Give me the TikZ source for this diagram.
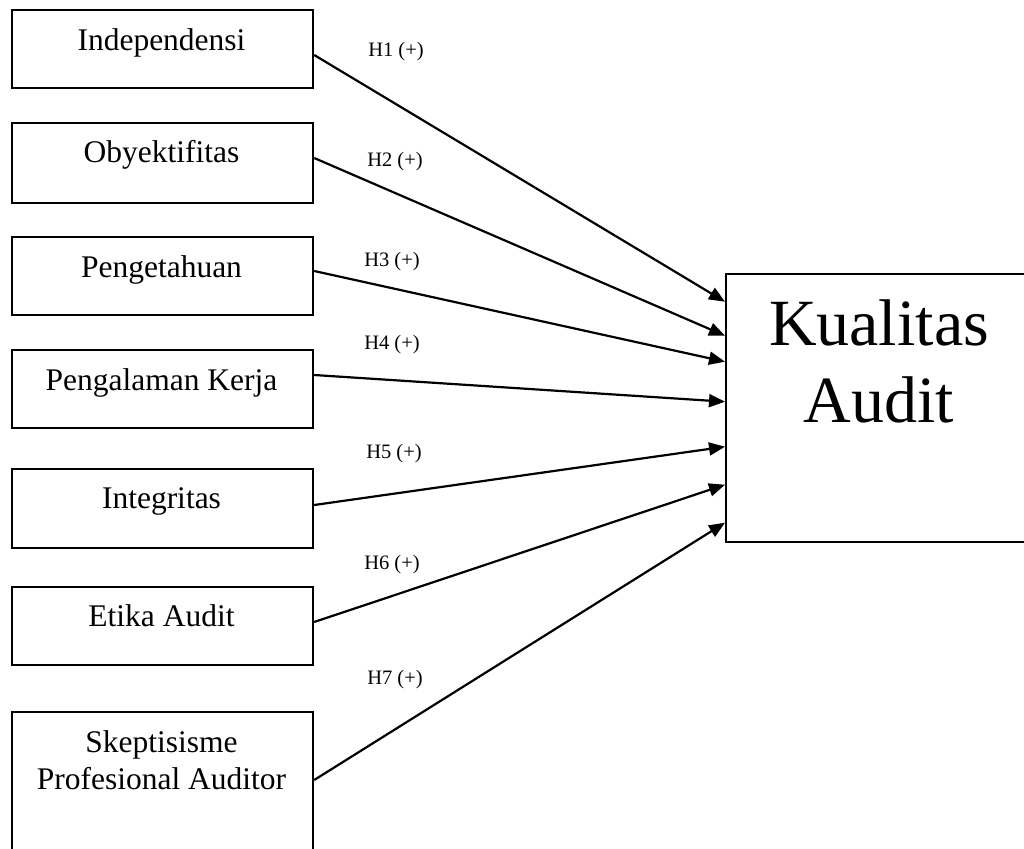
\documentclass[tikz,border=0pt]{standalone}
\usepackage{fontspec}
\setmainfont{Liberation Serif}
\usetikzlibrary{arrows.meta}
\begin{document}
\begin{tikzpicture}[x=1pt,y=-1pt,
  box/.style={draw, line width=2.2pt, rectangle, inner sep=0pt, minimum width=301pt, anchor=north west},
  lbl/.style={font=\fontsize{31.5}{36.8}\selectfont, anchor=base, inner sep=0pt, align=center},
  big/.style={font=\fontsize{66}{77}\selectfont, anchor=base, inner sep=0pt, align=center},
  hyp/.style={font=\fontsize{20.5}{24}\selectfont, inner sep=0pt},
  arr/.style={line width=2.2pt, -{Triangle[length=16pt,width=13pt]}},
]
\useasboundingbox (0,0) rectangle (1024,848);
\clip (0,0) rectangle (1024,848);

% source boxes
\node[box, minimum height=78pt] (b1) at (11,9) {};
\node[box, minimum height=80pt] (b2) at (11,122) {};
\node[box, minimum height=78pt] (b3) at (11,236) {};
\node[box, minimum height=78pt] (b4) at (11,349) {};
\node[box, minimum height=79pt] (b5) at (11,468) {};
\node[box, minimum height=78pt] (b6) at (11,586) {};
\node[box, minimum height=170pt] (b7) at (11,711) {};

% target box
\node[box, minimum width=308pt, minimum height=268pt] (k) at (725,272.7) {};

% texts
\node[lbl] (t1) at (161.5,51) {Independensi};
\node[lbl] (t2) at (161.5,162) {Obyektifitas};
\node[lbl] (t3) at (161.5,277) {Pengetahuan};
\node[lbl] (t4) at (161.5,390) {Pengalaman Kerja};
\node[lbl] (t5) at (161.5,508) {Integritas};
\node[lbl] (t6) at (161.5,626) {Etika Audit};
\node[lbl] (t7) at (161.5,789) {Skeptisisme\\Profesional Auditor};
\node[big] (kt) at (879,422) {Kualitas\\Audit};

% hypothesis labels
\node[hyp] (h1) at (396,52) {H1 (+)};
\node[hyp] (h2) at (395,162) {H2 (+)};
\node[hyp] (h3) at (392,262) {H3 (+)};
\node[hyp] (h4) at (392,345) {H4 (+)};
\node[hyp] (h5) at (394,454) {H5 (+)};
\node[hyp] (h6) at (392,565) {H6 (+)};
\node[hyp] (h7) at (395,680) {H7 (+)};

% arrows
\draw[arr] ([yshift=-46pt]b1.north east) -- ([yshift=-29pt]k.north west);
\draw[arr] ([yshift=-36pt]b2.north east) -- ([yshift=-63pt]k.north west);
\draw[arr] ([yshift=-35pt]b3.north east) -- ([yshift=-89pt]k.north west);
\draw[arr] ([yshift=-26pt]b4.north east) -- ([yshift=-129pt]k.north west);
\draw[arr] ([yshift=-37pt]b5.north east) -- ([yshift=-174pt]k.north west);
\draw[arr] ([yshift=-36pt]b6.north east) -- ([yshift=-212pt]k.north west);
\draw[arr] ([yshift=-69pt]b7.north east) -- ([yshift=-250pt]k.north west);
\end{tikzpicture}
\end{document}
